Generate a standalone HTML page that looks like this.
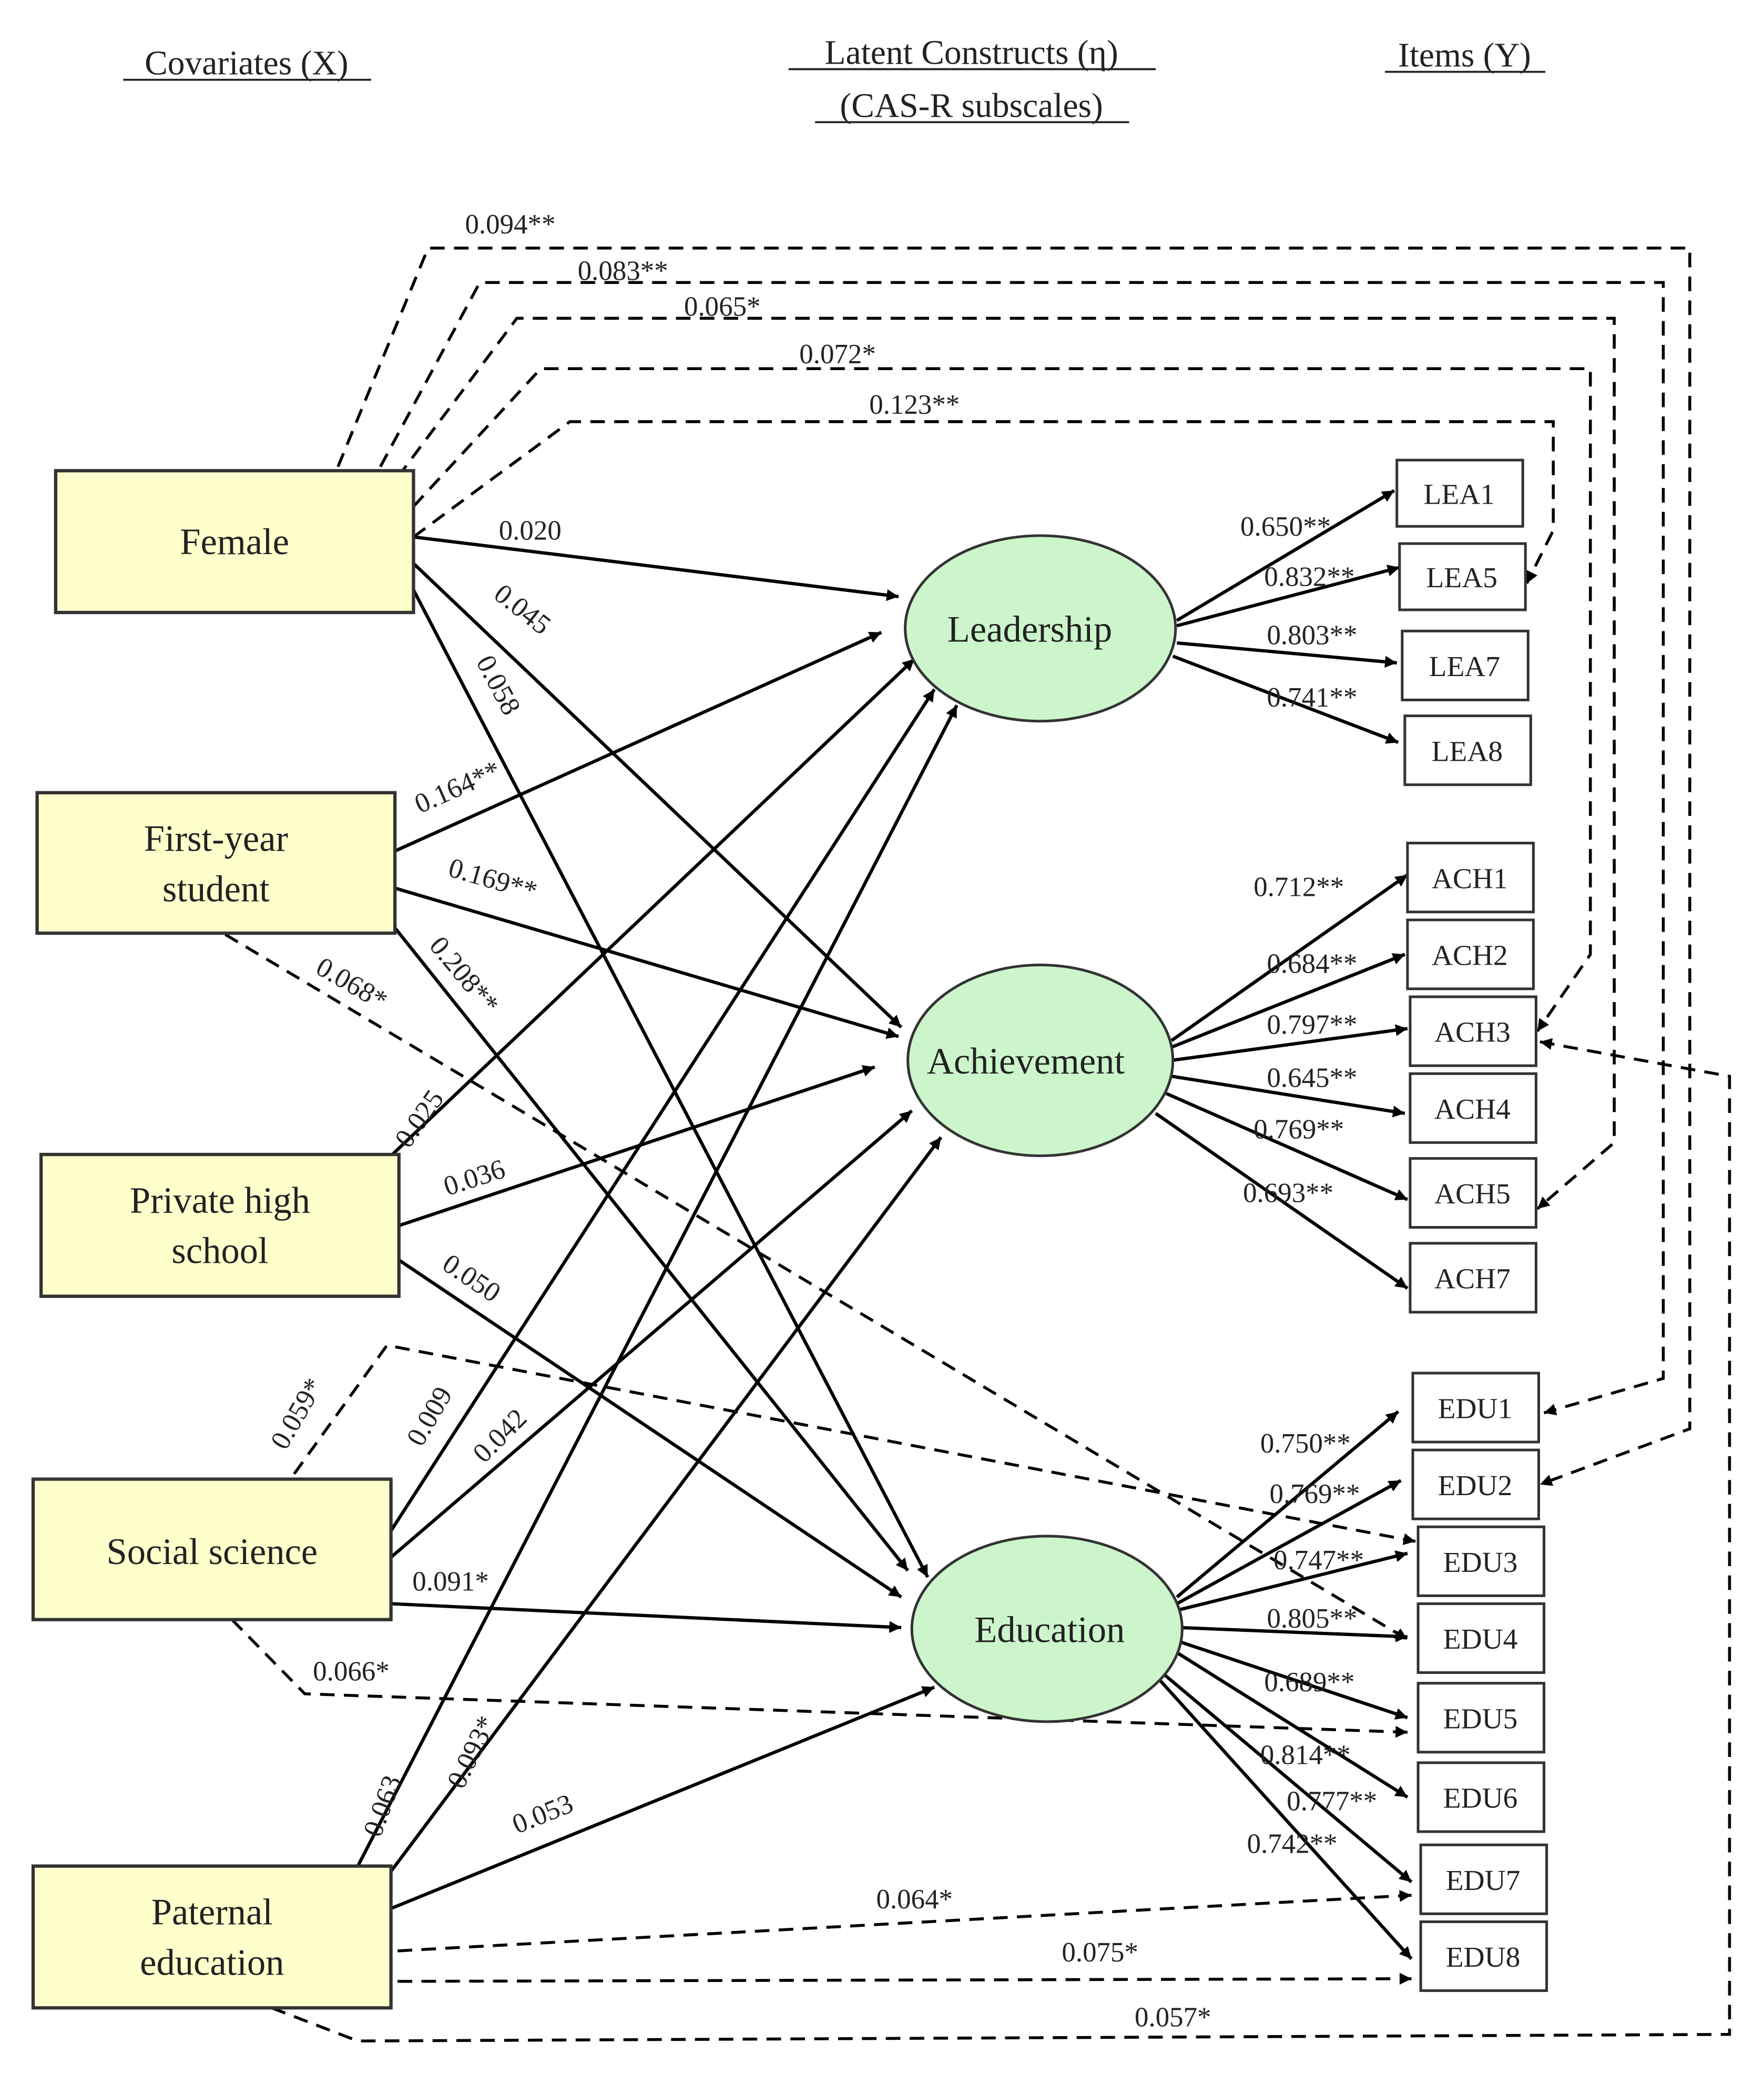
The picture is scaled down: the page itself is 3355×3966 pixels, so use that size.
<!DOCTYPE html>
<html><head><meta charset="utf-8"><style>html,body{margin:0;padding:0;background:#fff}svg{display:block}</style></head>
<body>
<svg width="3355" height="3966" viewBox="0 0 1331 1573" xmlns="http://www.w3.org/2000/svg" font-family="'Liberation Serif',serif" fill="#222">
<defs>
<marker id="a" viewBox="0 0 10 10" refX="10" refY="5" markerWidth="9" markerHeight="9" markerUnits="userSpaceOnUse" orient="auto"><path d="M0,0 L10,5 L0,10 z" fill="#000"/></marker>
</defs>
<rect width="1331" height="1573" fill="#fff"/>
<g font-size="26" text-anchor="middle">
<text x="186" y="56">Covariates (X)</text><line x1="93" y1="60" x2="280" y2="60" stroke="#222" stroke-width="1.5"/>
<text x="733" y="48">Latent Constructs (η)</text><line x1="595" y1="52" x2="872" y2="52" stroke="#222" stroke-width="1.5"/>
<text x="733" y="88">(CAS-R subscales)</text><line x1="615" y1="92" x2="852" y2="92" stroke="#222" stroke-width="1.5"/>
<text x="1105" y="50">Items (Y)</text><line x1="1045" y1="54" x2="1166" y2="54" stroke="#222" stroke-width="1.5"/>
</g>
<g stroke="#000" stroke-width="2.5" fill="none" marker-end="url(#a)">
<line x1="312" y1="405" x2="678" y2="450"/>
<line x1="312" y1="425" x2="680" y2="775"/>
<line x1="312" y1="445" x2="700" y2="1190"/>
<line x1="298" y1="642" x2="665" y2="477"/>
<line x1="298" y1="670" x2="678" y2="782"/>
<line x1="298" y1="700" x2="685" y2="1185"/>
<line x1="295" y1="872" x2="690" y2="497"/>
<line x1="300" y1="925" x2="660" y2="805"/>
<line x1="300" y1="950" x2="680" y2="1205"/>
<line x1="295" y1="1155" x2="705" y2="520"/>
<line x1="295" y1="1175" x2="688" y2="838"/>
<line x1="295" y1="1210" x2="680" y2="1228"/>
<line x1="270" y1="1408" x2="722" y2="532"/>
<line x1="295" y1="1412" x2="710" y2="858"/>
<line x1="295" y1="1440" x2="705" y2="1273"/>
<line x1="888" y1="468" x2="1052" y2="370"/>
<line x1="888" y1="472" x2="1056" y2="428"/>
<line x1="888" y1="485" x2="1054" y2="500"/>
<line x1="885" y1="495" x2="1055" y2="560"/>
<line x1="884" y1="785" x2="1062" y2="660"/>
<line x1="884" y1="790" x2="1060" y2="720"/>
<line x1="884" y1="800" x2="1062" y2="776"/>
<line x1="884" y1="812" x2="1060" y2="840"/>
<line x1="880" y1="825" x2="1062" y2="905"/>
<line x1="872" y1="840" x2="1062" y2="972"/>
<line x1="888" y1="1205" x2="1055" y2="1065"/>
<line x1="888" y1="1210" x2="1057" y2="1117"/>
<line x1="888" y1="1215" x2="1062" y2="1172"/>
<line x1="890" y1="1228" x2="1062" y2="1235"/>
<line x1="888" y1="1238" x2="1062" y2="1296"/>
<line x1="885" y1="1245" x2="1062" y2="1356"/>
<line x1="860" y1="1248" x2="1065" y2="1420"/>
<line x1="870" y1="1262" x2="1065" y2="1478"/>
</g>
<g stroke="#000" stroke-width="2.2" fill="none" stroke-dasharray="11,7" marker-end="url(#a)">
<polyline points="255,352 323,187 1275,187 1275,1078 1162,1120"/>
<polyline points="287,352 362,213 1255,213 1255,1040 1165,1066"/>
<polyline points="300,360 390,240 1218,240 1218,862 1160,912"/>
<polyline points="312,382 408,278 1200,278 1200,720 1160,778"/>
<polyline points="312,405 430,318 1172,318 1172,400 1152,440"/>
<polyline points="170,705 1062,1237"/>
<polyline points="222,1112 292,1015 1068,1163"/>
<polyline points="175,1222 230,1278 1062,1307"/>
<polyline points="300,1472 1065,1430"/>
<polyline points="300,1495 1065,1493"/>
<polyline points="205,1515 270,1540 1305,1535 1305,812 1162,786"/>
</g>
<g stroke="#333" stroke-width="2.5" fill="#ffffcc">
<rect x="42" y="355" width="270" height="107"/>
<rect x="28" y="598" width="270" height="106"/>
<rect x="31" y="871" width="270" height="107"/>
<rect x="25" y="1116" width="270" height="106"/>
<rect x="25" y="1408" width="270" height="107"/>
</g>
<g stroke="#333" stroke-width="2" fill="#ccf5cc">
<ellipse cx="785" cy="474" rx="102" ry="70"/>
<ellipse cx="785" cy="800" rx="100" ry="72"/>
<ellipse cx="790" cy="1229" rx="102" ry="70"/>
</g>
<g stroke="#333" stroke-width="2" fill="#fff">
<rect x="1054" y="347" width="95" height="50"/><rect x="1056" y="410" width="95" height="50"/>
<rect x="1058" y="476" width="95" height="52"/><rect x="1060" y="540" width="95" height="52"/>
<rect x="1062" y="636" width="95" height="52"/><rect x="1062" y="694" width="95" height="52"/>
<rect x="1064" y="752" width="95" height="52"/><rect x="1064" y="810" width="95" height="52"/>
<rect x="1064" y="874" width="95" height="52"/><rect x="1064" y="938" width="95" height="52"/>
<rect x="1066" y="1036" width="95" height="52"/><rect x="1066" y="1094" width="95" height="52"/>
<rect x="1070" y="1152" width="95" height="52"/><rect x="1070" y="1210" width="95" height="52"/>
<rect x="1070" y="1270" width="95" height="52"/><rect x="1070" y="1330" width="95" height="52"/>
<rect x="1072" y="1392" width="95" height="52"/><rect x="1072" y="1450" width="95" height="52"/>
</g>
<g font-size="28" text-anchor="middle">
<text x="177" y="418">Female</text>
<text x="163" y="642">First-year</text><text x="163" y="680">student</text>
<text x="166" y="915">Private high</text><text x="166" y="953">school</text>
<text x="160" y="1180">Social science</text>
<text x="160" y="1452">Paternal</text><text x="160" y="1490">education</text>
<text x="777" y="484">Leadership</text>
<text x="774" y="810">Achievement</text>
<text x="792" y="1239">Education</text>
</g>
<g font-size="22" text-anchor="middle">
<text x="1101" y="380">LEA1</text><text x="1103" y="443">LEA5</text><text x="1105" y="510">LEA7</text><text x="1107" y="574">LEA8</text>
<text x="1109" y="670">ACH1</text><text x="1109" y="728">ACH2</text><text x="1111" y="786">ACH3</text><text x="1111" y="844">ACH4</text><text x="1111" y="908">ACH5</text><text x="1111" y="972">ACH7</text>
<text x="1113" y="1070">EDU1</text><text x="1113" y="1128">EDU2</text><text x="1117" y="1186">EDU3</text><text x="1117" y="1244">EDU4</text><text x="1117" y="1304">EDU5</text><text x="1117" y="1364">EDU6</text><text x="1119" y="1426">EDU7</text><text x="1119" y="1484">EDU8</text>
</g>
<g font-size="21" text-anchor="middle">
<text x="400" y="407">0.020</text>
<text transform="translate(390,465) rotate(38)">0.045</text>
<text transform="translate(370,520) rotate(62)">0.058</text>
<text transform="translate(348,600) rotate(-24)">0.164**</text>
<text transform="translate(370,670) rotate(16)">0.169**</text>
<text transform="translate(345,740) rotate(50)">0.208**</text>
<text transform="translate(322,848) rotate(-55)">0.025</text>
<text transform="translate(360,895) rotate(-18)">0.036</text>
<text transform="translate(352,970) rotate(34)">0.050</text>
<text transform="translate(330,1072) rotate(-60)">0.009</text>
<text transform="translate(382,1088) rotate(-45)">0.042</text>
<text x="340" y="1200">0.091*</text>
<text transform="translate(295,1365) rotate(-70)">0.063</text>
<text transform="translate(362,1325) rotate(-64)">0.093*</text>
<text transform="translate(412,1375) rotate(-22)">0.053</text>
<text x="970" y="404">0.650**</text><text x="988" y="442">0.832**</text><text x="990" y="486">0.803**</text><text x="990" y="533">0.741**</text>
<text x="980" y="676">0.712**</text><text x="990" y="734">0.684**</text><text x="990" y="780">0.797**</text><text x="990" y="820">0.645**</text><text x="980" y="859">0.769**</text><text x="972" y="907">0.693**</text>
<text x="985" y="1096">0.750**</text><text x="992" y="1134">0.769**</text><text x="995" y="1184">0.747**</text><text x="990" y="1228">0.805**</text><text x="988" y="1276">0.689**</text><text x="985" y="1331">0.814**</text><text x="1005" y="1366">0.777**</text><text x="975" y="1398">0.742**</text>
<text x="385" y="176">0.094**</text><text x="470" y="211">0.083**</text><text x="545" y="238">0.065*</text><text x="632" y="274">0.072*</text><text x="690" y="312">0.123**</text>
<text transform="translate(262,748) rotate(30)">0.068*</text>
<text transform="translate(230,1070) rotate(-60)">0.059*</text>
<text x="265" y="1268">0.066*</text>
<text x="690" y="1440">0.064*</text>
<text x="830" y="1480">0.075*</text>
<text x="885" y="1529">0.057*</text>
</g>
</svg>
</body></html>
